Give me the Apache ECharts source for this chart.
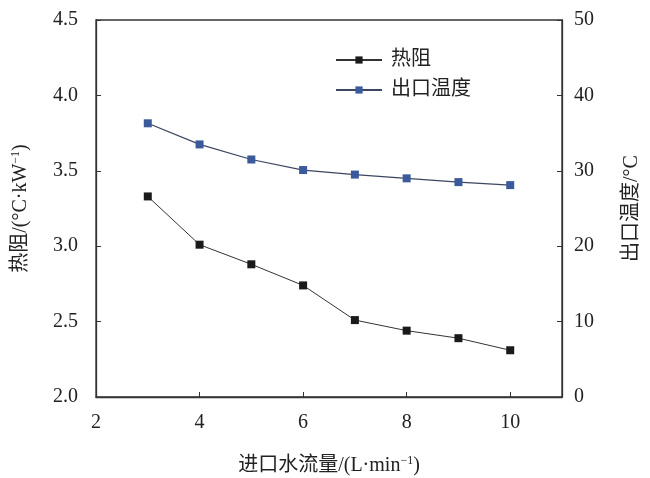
<!DOCTYPE html>
<html>
<head>
<meta charset="utf-8">
<script src="https://cdn.jsdelivr.net/npm/echarts@6/dist/echarts.min.js"></script>
<style>
  html, body { margin: 0; padding: 0; background: #fff; }
  #chart { width: 650px; height: 478px; }
</style>
</head>
<body>
<div id="chart"></div>
<script>
  // flow rate (L/min)
  const flowRates = [3, 4, 5, 6, 7, 8, 9, 10];
  // thermal resistance (°C/kW), left axis
  const thermalResistance = [3.33, 3.01, 2.88, 2.74, 2.51, 2.44, 2.39, 2.31];
  // outlet temperature (°C), right axis
  const outletTemp = [36.3, 33.5, 31.5, 30.1, 29.5, 29.0, 28.5, 28.1];

  const seriesNames = ['热阻', '出口温度'];

  const font = "'Liberation Serif', 'Times New Roman', 'Noto Sans CJK SC', serif";
  const axisColor = '#333';

  function pairs(xs, ys) {
    return xs.map(function (x, i) { return [x, ys[i]]; });
  }

  const chart = echarts.init(document.getElementById('chart'));
  chart.setOption({
    animation: false,
    textStyle: { fontFamily: font },
    grid: {
      left: 96, right: 88, top: 20, bottom: 81,
      outerBoundsMode: 'none',
      containLabel: false,
      show: true, borderColor: axisColor, borderWidth: 1.3
    },
    legend: {
      orient: 'vertical',
      left: 330,
      top: 45,
      itemWidth: 46,
      itemHeight: 9,
      itemGap: 10,
      textStyle: { fontFamily: font, fontSize: 20, color: '#222', padding: [0, 0, 0, 4] },
      data: seriesNames
    },
    xAxis: {
      type: 'value',
      min: 2, max: 11, interval: 2,
      name: '进口水流量/(L·min{sup|−1})',
      nameLocation: 'middle',
      nameGap: 58,
      nameTextStyle: {
        fontFamily: font, fontSize: 20, color: '#222',
        rich: { sup: { fontSize: 12, verticalAlign: 'top', padding: [0, 0, 10, 0] } }
      },
      axisLine: { lineStyle: { color: axisColor, width: 1.3 } },
      axisTick: { inside: true, length: 5, lineStyle: { color: axisColor } },
      axisLabel: {
        fontSize: 20, color: '#222', margin: 16,
        formatter: function (v) { return v > 10 ? '' : String(v); }
      },
      splitLine: { show: false }
    },
    yAxis: [
      {
        type: 'value',
        min: 2, max: 4.5, interval: 0.5,
        name: '热阻/(°C·kW{sup|−1})',
        nameLocation: 'middle',
        nameGap: 64,
        nameTextStyle: {
          fontFamily: font, fontSize: 20, color: '#222',
          rich: { sup: { fontSize: 12, verticalAlign: 'top', padding: [0, 0, 10, 0] } }
        },
        axisLine: { show: true, lineStyle: { color: axisColor, width: 1.3 } },
        axisTick: { show: true, inside: true, length: 5, lineStyle: { color: axisColor } },
        axisLabel: {
          fontSize: 20, color: '#222', margin: 18,
          formatter: function (v) { return v.toFixed(1); }
        },
        splitLine: { show: false }
      },
      {
        type: 'value',
        min: 0, max: 50, interval: 10,
        name: '出口温度/°C',
        nameLocation: 'middle',
        nameGap: 60,
        nameRotate: 90,
        nameTextStyle: { fontFamily: font, fontSize: 20, color: '#222' },
        axisLine: { show: true, lineStyle: { color: axisColor, width: 1.3 } },
        axisTick: { show: true, inside: true, length: 5, lineStyle: { color: axisColor } },
        axisLabel: { fontSize: 20, color: '#222', margin: 12 },
        splitLine: { show: false }
      }
    ],
    series: [
      {
        name: seriesNames[0],
        type: 'line',
        yAxisIndex: 0,
        data: pairs(flowRates, thermalResistance),
        symbol: 'rect',
        symbolSize: 8,
        itemStyle: { color: '#1a1a1a' },
        lineStyle: { color: '#333', width: 1 }
      },
      {
        name: seriesNames[1],
        type: 'line',
        yAxisIndex: 1,
        data: pairs(flowRates, outletTemp),
        symbol: 'rect',
        symbolSize: 8,
        itemStyle: { color: '#3a5a9c' },
        lineStyle: { color: '#3c4660', width: 1.2 }
      }
    ]
  });
</script>
</body>
</html>
